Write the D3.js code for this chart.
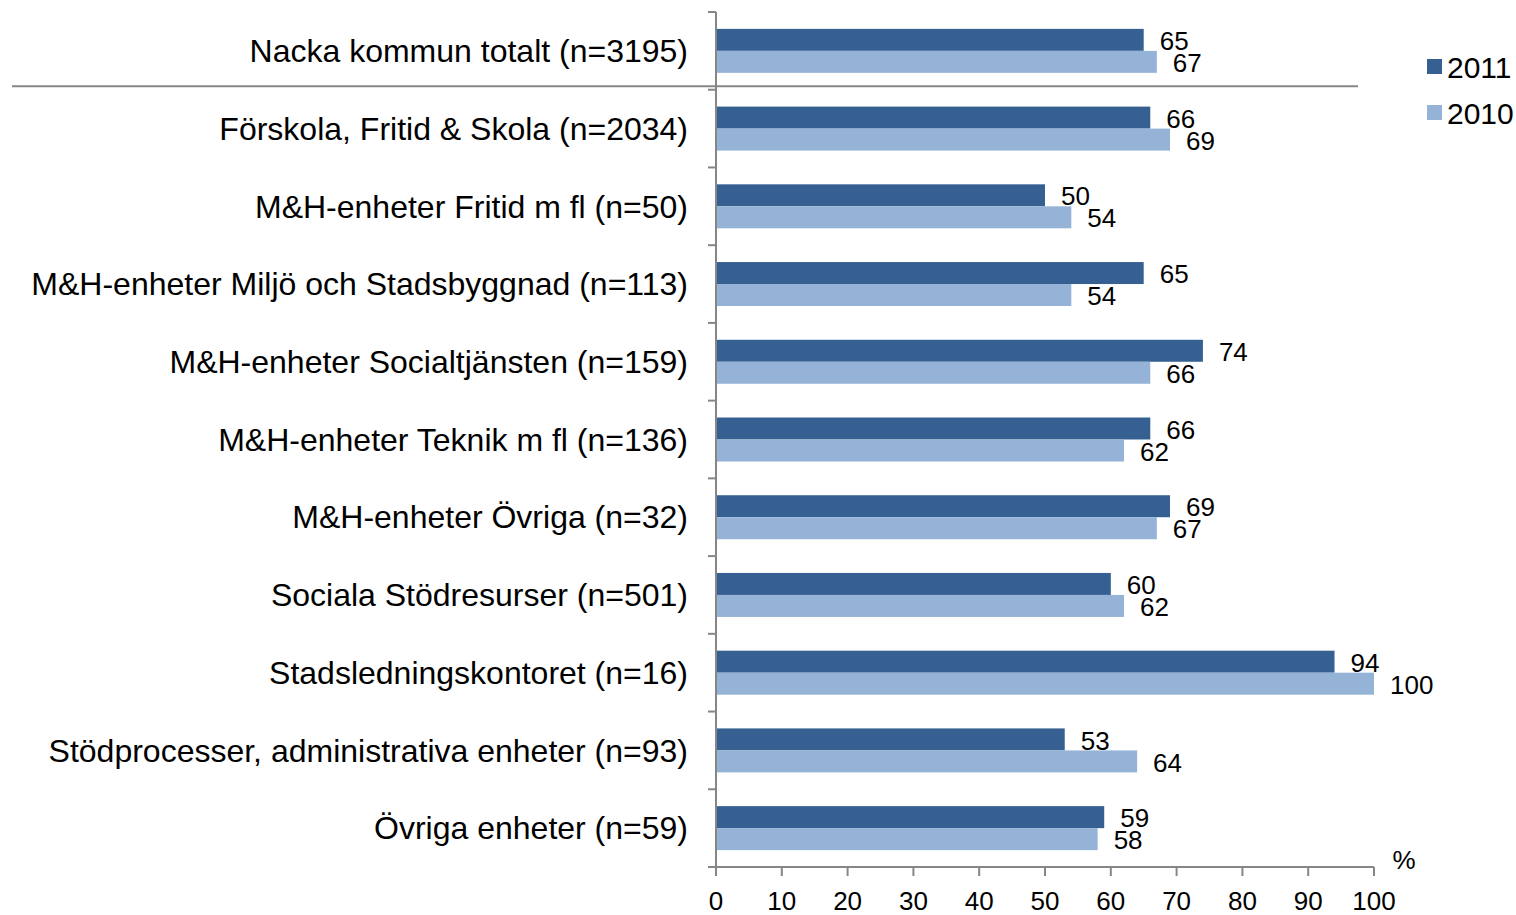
<!DOCTYPE html>
<html>
<head>
<meta charset="utf-8">
<script src="https://cdn.jsdelivr.net/npm/d3@7"></script>
<style>
  body { margin: 0; background: #fff; }
  text { font-family: Arial, "Liberation Sans", sans-serif; fill: #000; }
</style>
</head>
<body>
<div id="chart"></div>
<script>
// data
var categories = [
  "Nacka kommun totalt (n=3195)",
  "Förskola, Fritid & Skola (n=2034)",
  "M&H-enheter Fritid m fl (n=50)",
  "M&H-enheter Miljö och Stadsbyggnad (n=113)",
  "M&H-enheter Socialtjänsten (n=159)",
  "M&H-enheter Teknik m fl (n=136)",
  "M&H-enheter Övriga (n=32)",
  "Sociala Stödresurser (n=501)",
  "Stadsledningskontoret (n=16)",
  "Stödprocesser, administrativa enheter (n=93)",
  "Övriga enheter (n=59)"
];
var values2011 = [65, 66, 50, 65, 74, 66, 69, 60, 94, 53, 59];
var values2010 = [67, 69, 54, 54, 66, 62, 67, 62, 100, 64, 58];
var seriesNames = ["2011", "2010"];
var xTicks = [0, 10, 20, 30, 40, 50, 60, 70, 80, 90, 100];

// set the dimensions of the plot area
var W = 1516, H = 915;
var plotLeft = 716, plotRight = 1374, plotTop = 12, plotBottom = 867;

var svg = d3.select("#chart").append("svg")
  .attr("width", W).attr("height", H);

var x = d3.scaleLinear().domain([0, 100]).range([plotLeft, plotRight]);
var y = d3.scaleBand().domain(categories).range([plotTop, plotBottom]);
var color = d3.scaleOrdinal().domain(seriesNames).range(["#366092", "#95b3d7"]);

var barH = 22;

// bars + value labels
var rows = categories.map(function (c, i) {
  return { cat: c, v: [values2011[i], values2010[i]] };
});

var g = svg.append("g");
rows.forEach(function (r) {
  var yc = y(r.cat) + y.bandwidth() / 2;
  seriesNames.forEach(function (s, k) {
    var y0 = yc - barH + k * barH;
    g.append("rect")
      .attr("x", x(0))
      .attr("y", y0)
      .attr("width", x(r.v[k]) - x(0))
      .attr("height", barH)
      .attr("fill", color(s));
    g.append("text")
      .attr("x", x(r.v[k]) + 16)
      .attr("y", y0 + barH / 2 + 1)
      .attr("dy", "0.35em")
      .style("font-size", "26px")
      .text(r.v[k]);
  });
});

// category labels
svg.append("g").selectAll("text")
  .data(categories).enter().append("text")
  .attr("x", plotLeft - 28)
  .attr("y", function (d) { return y(d) + y.bandwidth() / 2; })
  .attr("dy", "0.35em")
  .attr("text-anchor", "end")
  .style("font-size", "32px")
  .text(function (d) { return d; });

// y axis with category separators
var axisColor = "#868686";
svg.append("line")
  .attr("x1", plotLeft).attr("x2", plotLeft).attr("y1", plotTop).attr("y2", plotBottom)
  .attr("stroke", axisColor).attr("stroke-width", 2);
var seps = categories.map(function (c) { return y(c); }).concat([plotBottom]);
svg.append("g").selectAll("line")
  .data(seps).enter().append("line")
  .attr("x1", plotLeft - 8).attr("x2", plotLeft)
  .attr("y1", function (d) { return d; }).attr("y2", function (d) { return d; })
  .attr("stroke", axisColor).attr("stroke-width", 2);

// separator under the total row
svg.append("line")
  .attr("x1", 12).attr("x2", 1358)
  .attr("y1", y(categories[1]) - 3.5).attr("y2", y(categories[1]) - 3.5)
  .attr("stroke", axisColor).attr("stroke-width", 2);

// x axis
svg.append("line")
  .attr("x1", plotLeft).attr("x2", plotRight).attr("y1", plotBottom).attr("y2", plotBottom)
  .attr("stroke", axisColor).attr("stroke-width", 2);
svg.append("g").selectAll("line")
  .data(xTicks).enter().append("line")
  .attr("x1", function (d) { return x(d); }).attr("x2", function (d) { return x(d); })
  .attr("y1", plotBottom).attr("y2", plotBottom + 9)
  .attr("stroke", axisColor).attr("stroke-width", 2);
svg.append("g").selectAll("text")
  .data(xTicks).enter().append("text")
  .attr("x", function (d) { return x(d); })
  .attr("y", 901)
  .attr("dy", "0.35em")
  .attr("text-anchor", "middle")
  .style("font-size", "26px")
  .text(function (d) { return d; });

svg.append("text")
  .attr("x", 1404).attr("y", 860).attr("dy", "0.35em")
  .attr("text-anchor", "middle")
  .style("font-size", "26px")
  .text("%");

// legend
var legend = svg.append("g").selectAll("g")
  .data(seriesNames).enter().append("g")
  .attr("transform", function (d, i) { return "translate(1427," + (67 + i * 46) + ")"; });
legend.append("rect")
  .attr("x", 0).attr("y", -8).attr("width", 15).attr("height", 15)
  .attr("fill", function (d) { return color(d); });
legend.append("text")
  .attr("x", 20).attr("y", 0).attr("dy", "0.35em")
  .style("font-size", "30px")
  .text(function (d) { return d; });
</script>
</body>
</html>
